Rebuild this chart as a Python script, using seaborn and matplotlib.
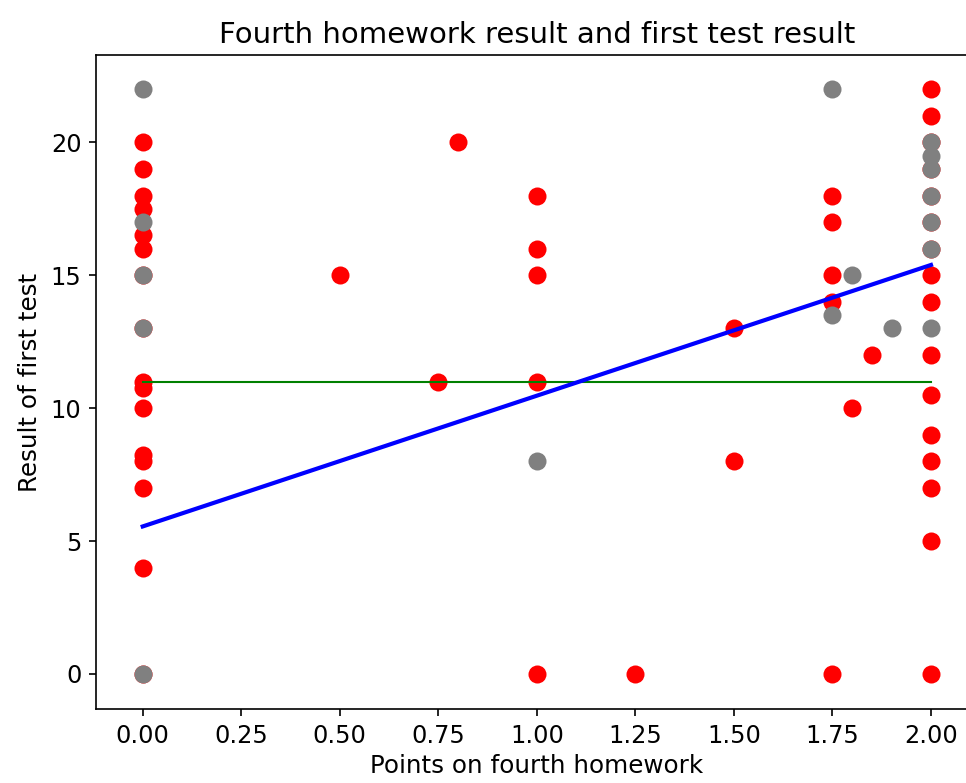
import numpy as np
import pandas as pd
import seaborn as sns
import matplotlib
matplotlib.use("Agg")
import matplotlib.pyplot as plt

# points: red group and gray group
red_x = [0.0] * 16 + [0.5, 0.75, 0.8] + [1.0] * 5 + [1.25, 1.5, 1.5] + [1.75] * 5 + [1.8, 1.85] + [2.0] * 16
red_y = [20, 19, 18, 17.5, 16.5, 16, 15, 13, 11, 10.75, 10, 8.25, 8, 7, 4, 0,
         15, 11, 20,
         18, 16, 15, 11, 0,
         0, 13, 8,
         18, 17, 15, 14, 0,
         10, 12,
         22, 21, 20, 19, 18, 17, 16, 15, 14, 12, 10.5, 9, 8, 7, 5, 0]

gray_x = [0.0] * 5 + [1.0] + [1.75, 1.75] + [1.8, 1.9] + [2.0] * 7
gray_y = [22, 17, 15, 13, 0,
          8,
          22, 13.5,
          15, 13,
          20, 19.5, 19, 18, 17, 16, 13]

# fitted line and mean line
fit_intercept = 5.55
fit_slope = 4.92
mean_result = 11.0

red = pd.DataFrame({"hw4": red_x, "test1": red_y})
gray = pd.DataFrame({"hw4": gray_x, "test1": gray_y})

x_span = np.array([min(red_x + gray_x), max(red_x + gray_x)])
fit_line = pd.DataFrame({"hw4": x_span, "test1": fit_intercept + fit_slope * x_span})
mean_line = pd.DataFrame({"hw4": x_span, "test1": [mean_result] * 2})

fig = plt.figure(figsize=(6.44, 5.22), dpi=150)
ax = fig.add_axes([0.0994, 0.0945, 0.9127, 0.8349])

sns.scatterplot(data=red, x="hw4", y="test1", color="red", s=75, linewidth=0, ax=ax, zorder=2)
sns.scatterplot(data=gray, x="hw4", y="test1", color="gray", s=75, linewidth=0, ax=ax, zorder=2)
sns.lineplot(data=mean_line, x="hw4", y="test1", color="green", linewidth=1.0, ax=ax, zorder=3)
sns.lineplot(data=fit_line, x="hw4", y="test1", color="blue", linewidth=2.0, ax=ax, zorder=3)

ax.set_xlim(-0.1185, 2.1185)
ax.set_ylim(-1.32, 23.28)
ax.set_xticks(np.arange(0, 2.01, 0.25))
ax.set_xticklabels([f"{v:.2f}" for v in np.arange(0, 2.01, 0.25)])
ax.set_yticks([0, 5, 10, 15, 20])
ax.tick_params(labelsize=11.5)

ax.set_title("Fourth homework result and first test result", fontsize=14)
ax.set_xlabel("Points on fourth homework", fontsize=11.8, labelpad=3)
ax.set_ylabel("Result of first test", fontsize=11.8)

fig.savefig("out.png", dpi=150)
